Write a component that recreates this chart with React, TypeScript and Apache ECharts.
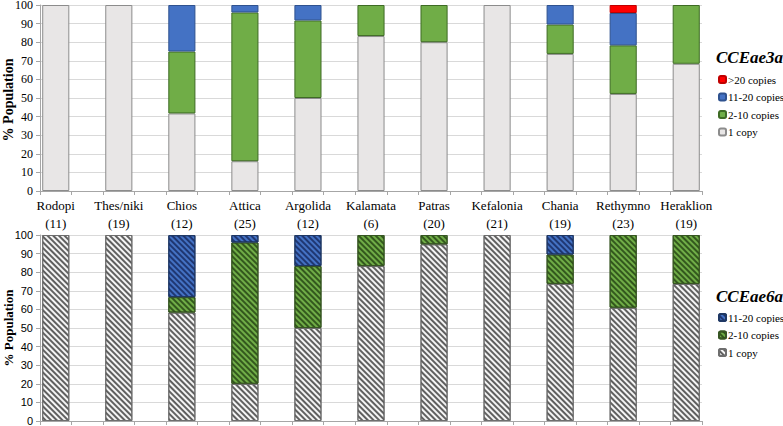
import React, { useEffect, useRef } from "react";
import * as echarts from "echarts";

const regions = ["Rodopi", "Thes/niki", "Chios", "Attica", "Argolida", "Kalamata", "Patras", "Kefalonia", "Chania", "Rethymno", "Heraklion"];
const sampleSizes = ["(11)", "(19)", "(12)", "(25)", "(12)", "(6)", "(20)", "(21)", "(19)", "(23)", "(19)"];

// CCEae3a (% population)
const ae3a_1copy = [100, 100, 41.7, 16, 50, 83.3, 80, 100, 73.7, 52.2, 68.4];
const ae3a_2to10 = [0, 0, 33.3, 80, 41.7, 16.7, 20, 0, 15.8, 26.1, 31.6];
const ae3a_11to20 = [0, 0, 25, 4, 8.3, 0, 0, 0, 10.5, 17.4, 0];
const ae3a_over20 = [0, 0, 0, 0, 0, 0, 0, 0, 0, 4.3, 0];

// CCEae6a (% population)
const ae6a_1copy = [100, 100, 58.3, 20, 50, 83.3, 95, 100, 73.7, 60.9, 73.7];
const ae6a_2to10 = [0, 0, 8.3, 76, 33.3, 16.7, 5, 0, 15.8, 39.1, 26.3];
const ae6a_11to20 = [0, 0, 33.3, 4, 16.7, 0, 0, 0, 10.5, 0, 0];

const yTicks = [0, 10, 20, 30, 40, 50, 60, 70, 80, 90, 100];
const yAxisTitle = "% Population";

const SERIF = "'Liberation Serif', serif";
const SANS = "'Liberation Sans', sans-serif";

// 21 slots: bar at every even slot, gap at odd slot
const slots = Array.from({ length: regions.length * 2 - 1 }, (_, i) => i);
const slotLabels = slots.map((i) => (i % 2 === 0 ? regions[i / 2] + "\n" + sampleSizes[i / 2] : ""));
const spread = (vals: number[]) => slots.map((i) => (i % 2 === 0 && vals[i / 2] > 0 ? vals[i / 2] : "-"));

const GRAY = "#e8e6e6";
const GREEN = "#70ad47";
const BLUE = "#4472c4";
const RED = "#ff0000";

export default function App() {
  const ref = useRef<HTMLDivElement>(null);
  useEffect(() => {
    document.body.style.margin = "0";
    if (!ref.current) return;
    const chart = echarts.init(ref.current, undefined, { renderer: "svg" });

    const hatch = (color: string) => ({
      symbol: "rect",
      symbolSize: 1,
      dashArrayX: [1, 0],
      dashArrayY: [1.2, 1.4],
      rotation: Math.PI / 4,
      color,
    });

    const baseX = (gridIndex: number, showLabels: boolean) => ({
      type: "category",
      gridIndex,
      data: slotLabels,
      axisLine: { lineStyle: { color: "#a6a6a6", width: 1 } },
      axisTick: { show: true, interval: 0, length: 4, lineStyle: { color: "#a6a6a6" } },
      axisLabel: {
        show: showLabels,
        interval: 0,
        margin: 5,
        fontFamily: SERIF,
        fontSize: 13,
        lineHeight: 18,
        color: "#000",
      },
      splitLine: { show: false },
    });

    const baseY = (gridIndex: number, font: string, fontSize: number) => ({
      type: "value",
      gridIndex,
      min: yTicks[0],
      max: yTicks[yTicks.length - 1],
      interval: yTicks[1] - yTicks[0],
      axisLine: { show: true, lineStyle: { color: "#a6a6a6" } },
      axisTick: { show: true, length: 4, lineStyle: { color: "#a6a6a6" } },
      axisLabel: { fontFamily: font, fontSize, color: "#000", margin: 7 },
      splitLine: { lineStyle: { color: "#d9d9d9", width: 1 } },
    });

    const bar = (name: string, data: number[], gi: number, stack: string, color: string, border: string, decal?: any) => ({
      name,
      type: "bar",
      xAxisIndex: gi,
      yAxisIndex: gi,
      stack,
      data: spread(data),
      barCategoryGap: "14%",
      itemStyle: { color, borderColor: border, borderWidth: 1, ...(decal ? { decal } : {}) },
    });

    const titleStyle = { fontFamily: SERIF, fontStyle: "italic", fontWeight: "bold", fontSize: 17, color: "#000" };
    const legendText = { fontFamily: SERIF, fontSize: 11, lineHeight: 13, color: "#000", padding: [0, 0, 0, -3] };

    chart.setOption({
      animation: false,
      backgroundColor: "#fff",
      title: [
        { text: "CCEae3a", left: 716, top: 49, padding: 0, textStyle: titleStyle },
        { text: "CCEae6a", left: 716, top: 288, padding: 0, textStyle: titleStyle },
      ],
      graphic: [
        {
          type: "text",
          x: 8,
          y: 100,
          rotation: Math.PI / 2,
          style: {
            text: yAxisTitle,
            fontFamily: "Liberation Serif",
            fontWeight: "bold",
            fontSize: 14,
            fill: "#000",
            textAlign: "center",
            textVerticalAlign: "middle",
          },
        },
        {
          type: "text",
          x: 8,
          y: 328,
          rotation: Math.PI / 2,
          style: {
            text: yAxisTitle,
            fontFamily: "Liberation Serif",
            fontWeight: "bold",
            fontSize: 13,
            fill: "#000",
            textAlign: "center",
            textVerticalAlign: "middle",
          },
        },
      ],
      legend: [
        {
          orient: "vertical",
          left: 718,
          top: 73,
          padding: 0,
          itemWidth: 7,
          itemHeight: 7,
          itemGap: 4.5,
          data: [">20 copies", "11-20 copies", "2-10 copies", "1 copy"],
          textStyle: legendText,
        },
        {
          orient: "vertical",
          left: 718,
          top: 311,
          padding: 0,
          itemWidth: 7,
          itemHeight: 7,
          itemGap: 4.5,
          data: ["11-20 copies ", "2-10 copies ", "1 copy "],
          formatter: (n: string) => n.trim(),
          textStyle: legendText,
        },
      ],
      grid: [
        { left: 40, top: 5, width: 662, height: 186, containLabel: false, outerBoundsMode: "none" },
        { left: 40, top: 235, width: 662, height: 186, containLabel: false, outerBoundsMode: "none" },
      ],
      xAxis: [baseX(0, true), baseX(1, false)],
      yAxis: [baseY(0, SERIF, 12), baseY(1, SANS, 11)],
      series: [
        bar("1 copy", ae3a_1copy, 0, "a", GRAY, "#8c8c8c"),
        bar("2-10 copies", ae3a_2to10, 0, "a", GREEN, "#3e6b24"),
        bar("11-20 copies", ae3a_11to20, 0, "a", BLUE, "#2f528f"),
        bar(">20 copies", ae3a_over20, 0, "a", RED, "#c00000"),
        bar("1 copy ", ae6a_1copy, 1, "b", "#f4f4f4", "#6e6e6e", hatch("rgba(70,70,70,0.85)")),
        bar("2-10 copies ", ae6a_2to10, 1, "b", GREEN, "#375623", hatch("rgba(30,60,15,0.75)")),
        bar("11-20 copies ", ae6a_11to20, 1, "b", BLUE, "#1f3864", hatch("rgba(15,30,80,0.7)")),
      ],
    });
    return () => chart.dispose();
  }, []);
  return <div ref={ref} style={{ width: 783, height: 426 }} />;
}
